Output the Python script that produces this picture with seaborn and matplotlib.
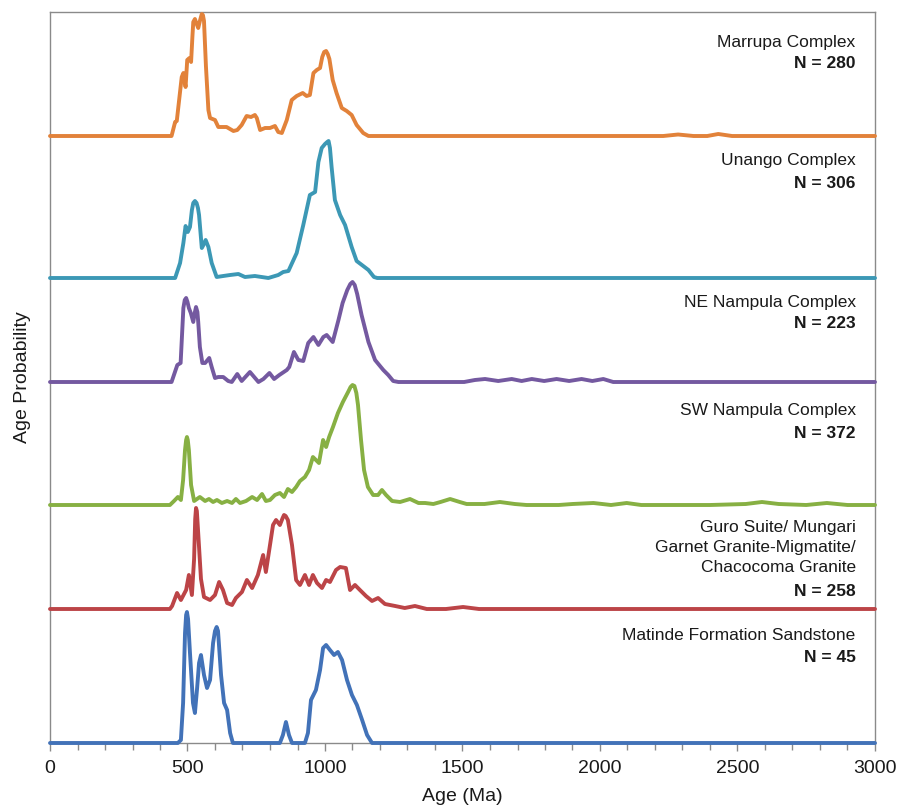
import numpy as np
import pandas as pd
import matplotlib
matplotlib.use("Agg")
import matplotlib.pyplot as plt
from matplotlib.ticker import MultipleLocator
import seaborn as sns

# ---- Series: ages (Ma) and relative probability heights ----
marrupa_age = [0, 442, 455, 461, 479, 485, 493, 499, 507, 513, 518, 521, 527, 532, 539, 546, 552, 556,
               560, 567, 576, 582, 600, 612, 642, 667, 681, 697, 715, 731, 745, 752, 764, 782, 800,
               818, 830, 843, 861, 879, 897, 919, 933, 945, 958, 970, 982, 990, 997, 1004, 1010, 1016,
               1028, 1042, 1061, 1079, 1097, 1115, 1139, 1158, 2230, 2284, 2340, 2390, 2430, 2480, 3000]
marrupa_p = [0, 0, 14, 15, 59, 63, 49, 76, 78, 74, 100, 114, 117, 113, 108, 116, 122, 121,
             115, 70, 26, 18, 16, 9, 9, 5, 6, 11, 20, 19, 21, 18, 6, 8, 8,
             10, 4, 3, 16, 36, 40, 43, 40, 41, 63, 66, 68, 79, 84, 85, 82, 77,
             56, 43, 28, 25, 21, 11, 3, 0, 0, 1.5, 0, 0, 2, 0, 0]

unango_age = [0, 455, 473, 485, 493, 501, 509, 516, 521, 527, 533, 538, 542, 552, 558, 566, 576, 588,
              606, 630, 655, 685, 709, 745, 794, 830, 848, 867, 897, 921, 945, 964, 976, 988, 1000,
              1008, 1013, 1018, 1024, 1036, 1055, 1073, 1097, 1115, 1139, 1158, 1178, 1190, 3000]
unango_p = [0, 0, 15, 35, 52, 46, 51, 68, 75, 77, 75, 70, 63, 30, 33, 38, 31, 15,
            1, 2, 3, 4, 1, 2, 0, 3, 6, 7, 25, 53, 83, 86, 116, 130, 134,
            136, 137, 130, 111, 78, 63, 53, 31, 17, 12, 8, 1, 0, 0]

ne_age = [0, 442, 463, 475, 485, 490, 495, 500, 505, 512, 521, 527, 531, 536, 539, 545, 554, 564, 579,
          588, 600, 612, 630, 648, 661, 681, 697, 727, 758, 776, 798, 815, 834, 861, 870, 887, 903,
          921, 939, 958, 976, 994, 1006, 1028, 1049, 1064, 1081, 1092, 1100, 1108, 1117, 1133, 1158,
          1182, 1212, 1230, 1248, 1267, 1506, 1545, 1582, 1630, 1679, 1715, 1752, 1797, 1842, 1888,
          1933, 1972, 2012, 2048, 3000]
ne_p = [0, 0, 17, 19, 74, 82, 84, 80, 74, 69, 60, 70, 75, 70, 60, 35, 19, 19, 24,
        15, 4, 5, 5, 1, 0, 8, 1, 10, 0, 3, 9, 3, 7, 12, 15, 30, 22,
        21, 39, 45, 37, 45, 47, 40, 62, 79, 92, 98, 100, 97, 88, 67, 40,
        22, 12, 7, 1, 0, 0, 2, 3, 1, 3, 1, 3, 1, 3, 1,
        3, 1, 3, 0, 0]

sw_age = [0, 436, 451, 465, 476, 484, 491, 495, 498, 501, 505, 513, 524, 545, 564, 578, 593, 607, 625,
          644, 662, 676, 691, 713, 735, 753, 771, 785, 800, 818, 836, 851, 865, 880, 895, 909, 927,
          942, 956, 967, 978, 993, 1004, 1015, 1029, 1047, 1065, 1084, 1093, 1100, 1107, 1114, 1120,
          1131, 1142, 1156, 1175, 1193, 1207, 1222, 1244, 1273, 1309, 1340, 1364, 1394, 1420, 1455,
          1490, 1515, 1580, 1636, 1690, 1733, 1850, 1900, 1976, 2040, 2097, 2150, 2400, 2530, 2589,
          2650, 2750, 2825, 2900, 3000]
sw_p = [0, 0, 4, 8, 5, 25, 55, 65, 68, 65, 55, 20, 4, 8, 4, 6, 3, 5, 2,
        4, 2, 6, 2, 4, 8, 5, 11, 4, 5, 10, 12, 8, 16, 13, 18, 24, 28,
        35, 48, 45, 42, 65, 58, 68, 78, 92, 103, 113, 118, 120, 119, 112, 100,
        65, 35, 18, 10, 10, 15, 10, 4, 3, 6, 2, 2, 1, 3, 6,
        3, 1, 1, 3, 1, 0, 0, 1, 2, 0, 2, 0, 0, 1, 3,
        1, 0, 2, 0, 0]

guro_age = [0, 436, 444, 462, 476, 495, 505, 516, 524, 528, 531, 534, 538, 549, 560, 582, 600, 615, 629,
            644, 662, 676, 698, 716, 735, 756, 775, 785, 800, 811, 822, 836, 846, 851, 857, 865, 880,
            895, 909, 927, 942, 956, 971, 989, 1004, 1018, 1040, 1055, 1076, 1091, 1109, 1127, 1149,
            1171, 1193, 1218, 1255, 1290, 1327, 1370, 1440, 1502, 1560, 3000]
guro_p = [0, 0, 3, 16, 9, 19, 34, 14, 50, 90, 101, 98, 80, 30, 12, 9, 14, 27, 19,
          6, 4, 11, 17, 29, 21, 34, 54, 37, 64, 84, 89, 84, 91, 94, 93, 89, 64,
          29, 24, 34, 24, 34, 26, 21, 29, 27, 39, 42, 41, 19, 24, 19, 13,
          8, 11, 5, 3, 1, 3, 0, 0, 2, 0, 0]

matinde_age = [0, 465, 476, 484, 491, 495, 498, 502, 509, 520, 527, 535, 542, 549, 560, 571, 582, 593,
               600, 606, 611, 622, 633, 644, 655, 665, 836, 847, 858, 869, 880, 927, 938, 949, 967, 982,
               993, 1004, 1018, 1033, 1047, 1062, 1080, 1098, 1116, 1135, 1153, 1171, 3000]
matinde_p = [0, 0, 3, 40, 110, 128, 131, 124, 90, 40, 30, 55, 80, 88, 68, 55, 63, 100,
             112, 116, 112, 68, 40, 33, 10, 0, 0, 8, 21, 8, 0, 0, 10, 43, 53, 73,
             95, 98, 93, 88, 91, 83, 63, 48, 38, 23, 8, 0, 0]

names = ["Marrupa Complex", "Unango Complex", "NE Nampula Complex", "SW Nampula Complex",
         "Guro Suite/ Mungari\nGarnet Granite-Migmatite/\nChacocoma Granite",
         "Matinde Formation Sandstone"]
counts = [280, 306, 223, 372, 258, 45]
ages = [marrupa_age, unango_age, ne_age, sw_age, guro_age, matinde_age]
probs = [marrupa_p, unango_p, ne_p, sw_p, guro_p, matinde_p]

# ---- Layout / style ----
colors = ["#E2823A", "#3C98B5", "#7459A0", "#87B043", "#BC4447", "#4272B8"]
offsets = [607, 465, 361, 238, 134, 0]          # vertical stacking of the curves
label_y = [700, 582, 440, 332, 223, 108]         # y of first label line (top for multi-line)
n_y = [679, 559, 419, 309, 151, 85]              # y of "N = ..." line

sns.set_style("white")
plt.rcParams["font.family"] = ["Liberation Sans", "DejaVu Sans"]

fig = plt.figure(figsize=(9, 8.08), dpi=100)
ax = fig.add_axes([50 / 900, (808 - 743) / 808, 825 / 900, 731 / 808])

for a, p, off, c in zip(ages, probs, offsets, colors):
    df = pd.DataFrame({"age": a, "prob": np.asarray(p, dtype=float) + off})
    sns.lineplot(data=df, x="age", y="prob", color=c, linewidth=2.8, ax=ax,
                 estimator=None, sort=False, solid_joinstyle="round",
                 solid_capstyle="round", clip_on=False, zorder=3)

txt_kw = dict(ha="right", color="#1a1a1a", fontsize=12.5)
for i, (nm, n) in enumerate(zip(names, counts)):
    if "\n" in nm:
        ax.text(2930, label_y[i], nm, va="top", linespacing=1.42, multialignment="right", **txt_kw)
    else:
        ax.text(2930, label_y[i], nm, va="center", **txt_kw)
    ax.text(2930, n_y[i], f"N = {n}", va="center", fontweight="bold", **txt_kw)

ax.set_xlim(0, 3000)
ax.set_ylim(0, 731)
ax.set_yticks([])
ax.xaxis.set_major_locator(MultipleLocator(500))
ax.xaxis.set_minor_locator(MultipleLocator(100))
ax.tick_params(axis="x", which="both", direction="out", bottom=True, color="#8a8a8a",
               width=1, labelsize=14, labelcolor="#1a1a1a", pad=6)
ax.tick_params(axis="x", which="major", length=6)
ax.tick_params(axis="x", which="minor", length=5)
for s in ax.spines.values():
    s.set_visible(True)
    s.set_color("#8a8a8a")
    s.set_linewidth(1.0)

ax.set_xlabel("Age (Ma)", fontsize=14, color="#1a1a1a", labelpad=8)
ax.set_ylabel("Age Probability", fontsize=14, color="#1a1a1a", labelpad=14)

fig.savefig("out.png", dpi=100, facecolor="white")
